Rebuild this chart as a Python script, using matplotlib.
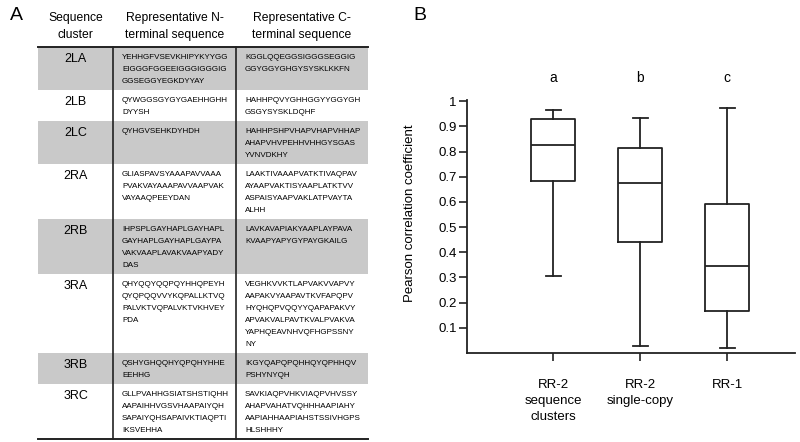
import numpy as np
import matplotlib
matplotlib.use('Agg')
from matplotlib import pyplot as plt
from matplotlib.patches import Rectangle

plt.rcParams['font.family'] = ['Liberation Sans', 'DejaVu Sans']

# ---- panel A: sequence table ----
clusters = ['2LA', '2LB', '2LC', '2RA', '2RB', '3RA', '3RB', '3RC']
n_terminal = [
    ['YEHHGFVSEVKHIPYKYYGG', 'EIGGGFGGEEIGGGIGGGIG', 'GGSEGGYEGKDYYAY'],
    ['QYWGGSGYGYGAEHHGHH', 'DYYSH'],
    ['QYHGVSEHKDYHDH'],
    ['GLIASPAVSYAAAPAVVAAA', 'PVAKVAYAAAPAVVAAPVAK', 'VAYAAQPEEYDAN'],
    ['IHPSPLGAYHAPLGAYHAPL', 'GAYHAPLGAYHAPLGAYPA', 'VAKVAAPLAVAKVAAPYADY', 'DAS'],
    ['QHYQQYQQPQYHHQPEYH', 'QYQPQQVVYKQPALLKTVQ', 'PALVKTVQPALVKTVKHVEY', 'PDA'],
    ['QSHYGHQQHYQPQHYHHE', 'EEHHG'],
    ['GLLPVAHHGSIATSHSTIQHH', 'AAPAIHHVGSVHAAPAIYQH', 'SAPAIYQHSAPAIVKTIAQPTI', 'IKSVEHHA'],
]
c_terminal = [
    ['KGGLQQEGGSIGGGSEGGIG', 'GGYGGYGHGYSYSKLKKFN'],
    ['HAHHPQVYGHHGGYYGGYGH', 'GSGYSYSKLDQHF'],
    ['HAHHPSHPVHAPVHAPVHHAP', 'AHAPVHVPEHHVHHGYSGAS', 'YVNVDKHY'],
    ['LAAKTIVAAAPVATKTIVAQPAV', 'AYAAPVAKTISYAAPLATKTVV', 'ASPAISYAAPVAKLATPVAYTA', 'ALHH'],
    ['LAVKAVAPIAKYAAPLAYPAVA', 'KVAAPYAPYGYPAYGKAILG'],
    ['VEGHKVVKTLAPVAKVVAPVY', 'AAPAKVYAAPAVTKVFAPQPV', 'HYQHQPVQQYYQAPAPAKVY',
     'APVAKVALPAVTKVALPVAKVA', 'YAPHQEAVNHVQFHGPSSNY', 'NY'],
    ['IKGYQAPQPQHHQYQPHHQV', 'PSHYNYQH'],
    ['SAVKIAQPVHKVIAQPVHVSSY', 'AHAPVAHATVQHHHAAPIAHY', 'AAPIAHHAAPIAHSTSSIVHGPS', 'HLSHHHY'],
]
headers = [['Sequence', 'cluster'],
           ['Representative N-', 'terminal sequence'],
           ['Representative C-', 'terminal sequence']]

# ---- panel B: box plot ----
groups = ['RR-2\nsequence\nclusters', 'RR-2\nsingle-copy', 'RR-1']
whislo = [0.307, 0.029, 0.019]
q1 = [0.683, 0.442, 0.168]
med = [0.828, 0.677, 0.346]
q3 = [0.931, 0.816, 0.591]
whishi = [0.967, 0.933, 0.972]
letters = ['a', 'b', 'c']
yticks = [0.1, 0.2, 0.3, 0.4, 0.5, 0.6, 0.7, 0.8, 0.9, 1.0]
ytick_labels = ['0.1', '0.2', '0.3', '0.4', '0.5', '0.6', '0.7', '0.8', '0.9', '1']

fig = plt.figure(figsize=(8, 4.42), dpi=100)

# table is laid out in figure pixels
tab = fig.add_axes([0, 0, 1, 1])
tab.set_xlim(0, 800)
tab.set_ylim(442, 0)
tab.axis('off')

x0, x1, x2, x3 = 38, 113, 236, 368
top = 47
line_h = 12
pad = 7
ink = '#222222'
seq_size = 5.75

tab.text(10, 20, 'A', fontsize=14, ha='left', va='baseline')
col_centers = [(x0 + x1) / 2, (x1 + x2) / 2, (x2 + x3) / 2]
for cx, lines in zip(col_centers, headers):
    tab.text(cx, 21, lines[0], fontsize=8.7, ha='center', va='baseline')
    tab.text(cx, 38, lines[1], fontsize=8.7, ha='center', va='baseline')

y = top
for i, name in enumerate(clusters):
    n = max(len(n_terminal[i]), len(c_terminal[i]))
    h = n * line_h + pad
    if i % 2 == 0:
        tab.add_patch(Rectangle((x0, y), x3 - x0, h, facecolor='#c9c9c9', edgecolor='none'))
    tab.text(col_centers[0], y + 15, name, fontsize=9, ha='center', va='baseline')
    for j, s in enumerate(n_terminal[i]):
        tab.text(x1 + 9, y + 12 + j * line_h, s, fontsize=seq_size, va='baseline')
    for j, s in enumerate(c_terminal[i]):
        tab.text(x2 + 9, y + 12 + j * line_h, s, fontsize=seq_size, va='baseline')
    y += h

tab.plot([x0, x3], [top, top], color=ink, lw=1.4)
tab.plot([x0, x3], [y, y], color=ink, lw=1.4)
tab.plot([x1, x1], [top, y], color=ink, lw=1.2)
tab.plot([x2, x2], [top, y], color=ink, lw=1.2)

# box plot
ax = fig.add_axes([467 / 800, 1 - 353 / 442, 328 / 800, 253 / 442])
pos = np.arange(1, len(groups) + 1)
stats = []
for k in range(len(groups)):
    stats.append(dict(med=med[k], q1=q1[k], q3=q3[k], whislo=whislo[k], whishi=whishi[k], fliers=[]))
lp = dict(color=ink, lw=1.3)
ax.bxp(stats, positions=pos, widths=0.5, capwidths=0.17, showfliers=False,
       boxprops=lp, whiskerprops=lp, capprops=lp, medianprops=lp)
ax.set_xlim(0.01, 3.78)
ax.set_ylim(0, 1.005)
ax.set_xticks(pos)
ax.set_xticklabels(groups, fontsize=9.5, linespacing=1.45)
ax.set_yticks(yticks)
ax.set_yticklabels(ytick_labels, fontsize=9.5)
for side in ['top', 'right']:
    ax.spines[side].set_visible(False)
for side in ['left', 'bottom']:
    ax.spines[side].set_linewidth(1.3)
    ax.spines[side].set_color(ink)
ax.tick_params(axis='both', direction='out', length=5.5, width=1.2, color=ink)
ax.tick_params(axis='x', pad=13)
ax.tick_params(axis='y', pad=2)
for p, l in zip(pos, letters):
    ax.text(p, 1.075, l, fontsize=10, ha='center', va='baseline', clip_on=False)

fig.text(410 / 800, 1 - 213 / 442, 'Pearson correlation coefficient', fontsize=9.5,
         rotation=90, ha='center', va='center')
fig.text(413 / 800, 1 - 20 / 442, 'B', fontsize=14, ha='left', va='baseline')

fig.savefig('out.png', dpi=100)
